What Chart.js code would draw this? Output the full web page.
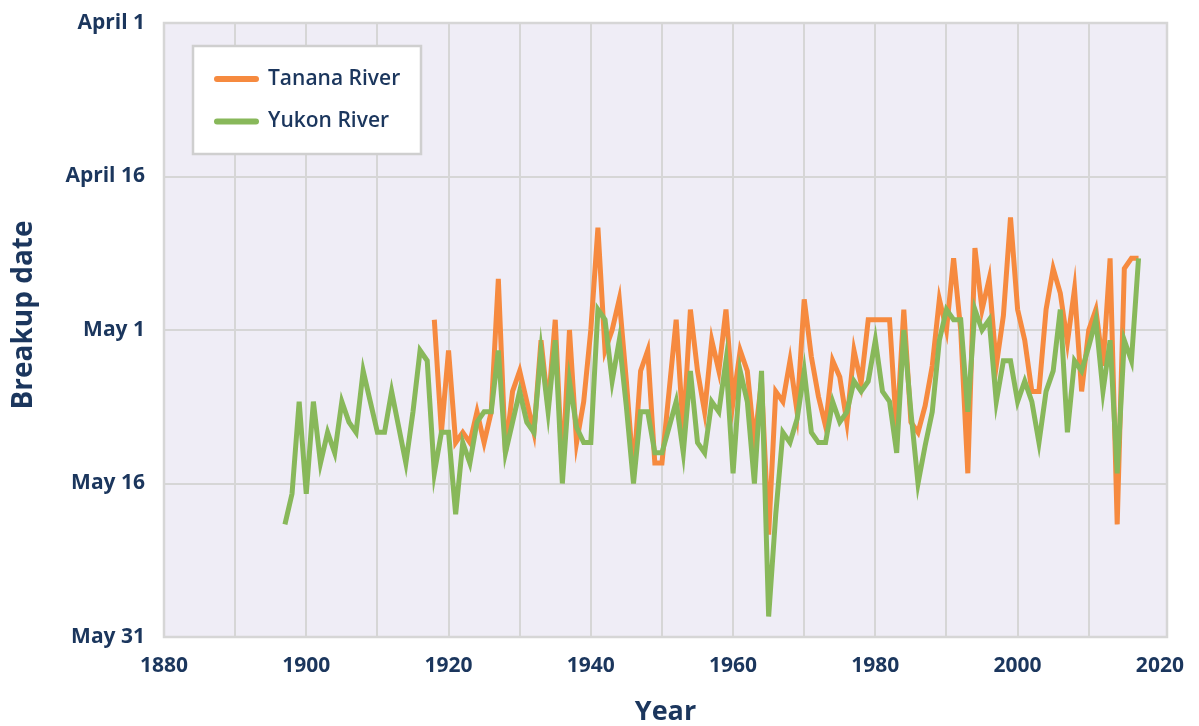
<!DOCTYPE html>
<html>
<head>
<meta charset="utf-8">
<script src="https://cdn.jsdelivr.net/npm/chart.js@4"></script>
<style>
  html, body { margin: 0; padding: 0; background: #ffffff; }
  #wrap { width: 1199px; height: 726px; }
</style>
</head>
<body>
<div id="wrap"><canvas id="breakupChart"></canvas></div>
<script>
// Years with a breakup observation
const years = [
  1897, 1898, 1899,
  1900, 1901, 1902, 1903, 1904, 1905, 1906, 1907, 1908, 1909,
  1910, 1911, 1912, 1913, 1914, 1915, 1916, 1917, 1918, 1919,
  1920, 1921, 1922, 1923, 1924, 1925, 1926, 1927, 1928, 1929,
  1930, 1931, 1932, 1933, 1934, 1935, 1936, 1937, 1938, 1939,
  1940, 1941, 1942, 1943, 1944, 1945, 1946, 1947, 1948, 1949,
  1950, 1951, 1952, 1953, 1954, 1955, 1956, 1957, 1958, 1959,
  1960, 1961, 1962, 1963, 1964, 1965, 1966, 1967, 1968, 1969,
  1970, 1971, 1972, 1973, 1974, 1975, 1976, 1977, 1978, 1979,
  1980, 1981, 1982, 1983, 1984, 1985, 1986, 1987, 1988, 1989,
  1990, 1991, 1992, 1993, 1994, 1995, 1996, 1997, 1998, 1999,
  2000, 2001, 2002, 2003, 2004, 2005, 2006, 2007, 2008, 2009,
  2010, 2011, 2012, 2013, 2014, 2015, 2016, 2017
];

// Breakup date, days after April 1
const tanana = [
  null, null, null,
  null, null, null, null, null, null, null, null, null, null,
  null, null, null, null, null, null, null, null, 29, 40,
  32, 41, 40, 41, 38, 41, 38, 25, 42, 36,
  34, 37, 40, 31, 37.5, 29, 44, 30, 41, 37,
  30, 20, 32, 30, 27, 35, 44, 34, 32, 43,
  43, 36, 29, 40, 28, 34, 38, 31, 34, 28,
  37, 32, 34, 41, 35, 50, 36, 37, 33, 38,
  27, 32.6, 36.5, 39.4, 33, 34.6, 39, 32, 35.2, 29,
  29, 29, 29, 40, 28, 39, 40, 37.4, 33.5, 27,
  30, 23, 30, 44, 22, 28, 25, 33.5, 28.6, 19,
  28, 31, 36, 36, 28, 24, 26.4, 31.2, 26, 36,
  30, 28, 33.5, 23, 49, 24, 23, 23
];

const yukon = [
  49, 46, 37,
  46, 37, 43, 40, 42, 37, 39, 40, 34, 37,
  40, 40, 36, 39.5, 43, 38, 32, 33, 44, 40,
  40, 48, 41, 43, 39, 38, 38, 32, 42, 39,
  36, 39, 40, 32, 38, 31, 45, 35, 39.5, 41,
  41, 28, 29, 35, 31, 37.5, 45, 38, 38, 42,
  42, 39.5, 37, 42, 34, 41, 42, 37, 38, 33,
  44, 34, 37, 45, 34, 58, 48, 40, 41, 38.7,
  34, 40, 41, 41, 37, 39, 38, 35, 36, 35,
  31, 36, 37, 42, 30, 38, 45, 41.3, 38, 31,
  28, 29, 29, 38, 28, 30, 29, 37, 33, 33,
  37, 35, 37, 41, 36, 34, 28, 40, 33, 34,
  31.6, 29, 36, 31, 44, 31, 33, 23
];

const dateTicks = [0, 15, 30, 45, 60];
const dateLabels = ['April 1', 'April 16', 'May 1', 'May 16', 'May 31'];
const gridYears = [1880, 1890, 1900, 1910, 1920, 1930, 1940, 1950, 1960, 1970, 1980, 1990, 2000, 2010, 2020];
const labelYears = [1880, 1900, 1920, 1940, 1960, 1980, 2000, 2020];

const navy = '#1b365d';
const gridColor = '#d6d6d6';

function toPoints(values) {
  return years.map((yr, i) => ({ x: yr, y: values[i] }));
}

// lavender plot background, outline and the vertical axis title
const plotFrame = {
  id: 'plotFrame',
  beforeDraw(chart) {
    const { ctx, chartArea: a } = chart;
    ctx.save();
    ctx.fillStyle = '#efedf6';
    ctx.fillRect(a.left, a.top, a.right - a.left, a.bottom - a.top);
    ctx.restore();
  },
  beforeDatasetsDraw(chart) {
    const { ctx, chartArea: a } = chart;
    ctx.save();
    ctx.strokeStyle = gridColor;
    ctx.lineWidth = 2.5;
    ctx.strokeRect(a.left, a.top, a.right - a.left, a.bottom - a.top);
    ctx.translate(24, 315);
    ctx.rotate(-Math.PI / 2);
    ctx.fillStyle = navy;
    ctx.font = 'bold 28px "Open Sans"';
    ctx.textAlign = 'center';
    ctx.textBaseline = 'middle';
    ctx.fillText('Breakup date', 0, 0);
    ctx.restore();
  }
};

// boxed legend inside the plot, upper left
const boxLegend = {
  id: 'boxLegend',
  afterDatasetsDraw(chart) {
    const { ctx } = chart;
    const items = chart.data.datasets.slice().sort((a, b) => b.order - a.order);
    ctx.save();
    ctx.fillStyle = '#ffffff';
    ctx.fillRect(193, 46, 228, 108);
    ctx.strokeStyle = '#cfcfcf';
    ctx.lineWidth = 2.5;
    ctx.strokeRect(193, 46, 228, 108);
    ctx.font = '600 21px "Open Sans"';
    ctx.textBaseline = 'middle';
    items.forEach((ds, i) => {
      const y = 79 + i * 42.5;
      ctx.strokeStyle = ds.borderColor;
      ctx.lineWidth = 6;
      ctx.lineCap = 'round';
      ctx.beginPath();
      ctx.moveTo(217, y);
      ctx.lineTo(256, y);
      ctx.stroke();
      ctx.fillStyle = navy;
      ctx.fillText(ds.label, 268, y);
    });
    ctx.restore();
  }
};

const ctx = document.getElementById('breakupChart').getContext('2d');
new Chart(ctx, {
  type: 'line',
  data: {
    datasets: [
      {
        label: 'Tanana River',
        data: toPoints(tanana),
        borderColor: '#f68a3f',
        borderWidth: 5,
        pointRadius: 0,
        tension: 0,
        fill: false,
        order: 2
      },
      {
        label: 'Yukon River',
        data: toPoints(yukon),
        borderColor: '#88b85a',
        borderWidth: 5,
        pointRadius: 0,
        tension: 0,
        fill: false,
        order: 1
      }
    ]
  },
  options: {
    responsive: true,
    maintainAspectRatio: false,
    animation: false,
    layout: { padding: { top: 23, right: 32, left: 0, bottom: 0 } },
    plugins: {
      legend: { display: false },
      tooltip: { enabled: false }
    },
    scales: {
      x: {
        type: 'linear',
        min: 1880,
        max: 2021,
        afterBuildTicks: scale => { scale.ticks = gridYears.map(v => ({ value: v })); },
        afterFit: scale => {
          scale.height = 89;
          scale.paddingLeft = 0;
          scale.paddingRight = 0;
        },
        border: { display: false },
        grid: {
          drawTicks: false,
          lineWidth: 2,
          color: c => (c.tick && c.tick.value === 2020) ? 'rgba(0,0,0,0)' : gridColor
        },
        ticks: {
          padding: 16,
          color: navy,
          font: { family: 'Open Sans', size: 21, weight: 'bold' },
          maxRotation: 0,
          autoSkip: false,
          callback: v => labelYears.includes(v) ? String(v) : ''
        },
        title: {
          display: true,
          text: 'Year',
          color: navy,
          font: { family: 'Open Sans', size: 27, weight: 'bold', lineHeight: 1.0 },
          padding: { top: 0, bottom: 0 }
        }
      },
      y: {
        reverse: true,
        min: 0,
        max: 60,
        afterBuildTicks: scale => { scale.ticks = dateTicks.map(v => ({ value: v })); },
        afterFit: scale => {
          scale.width = 164;
          scale.paddingTop = 0;
          scale.paddingBottom = 0;
        },
        border: { display: false },
        grid: { drawTicks: false, lineWidth: 2, color: gridColor },
        ticks: {
          padding: 19,
          color: navy,
          font: { family: 'Open Sans', size: 21, weight: 'bold' },
          callback: v => dateLabels[dateTicks.indexOf(v)]
        }
      }
    }
  },
  plugins: [plotFrame, boxLegend]
});
</script>
</body>
</html>
